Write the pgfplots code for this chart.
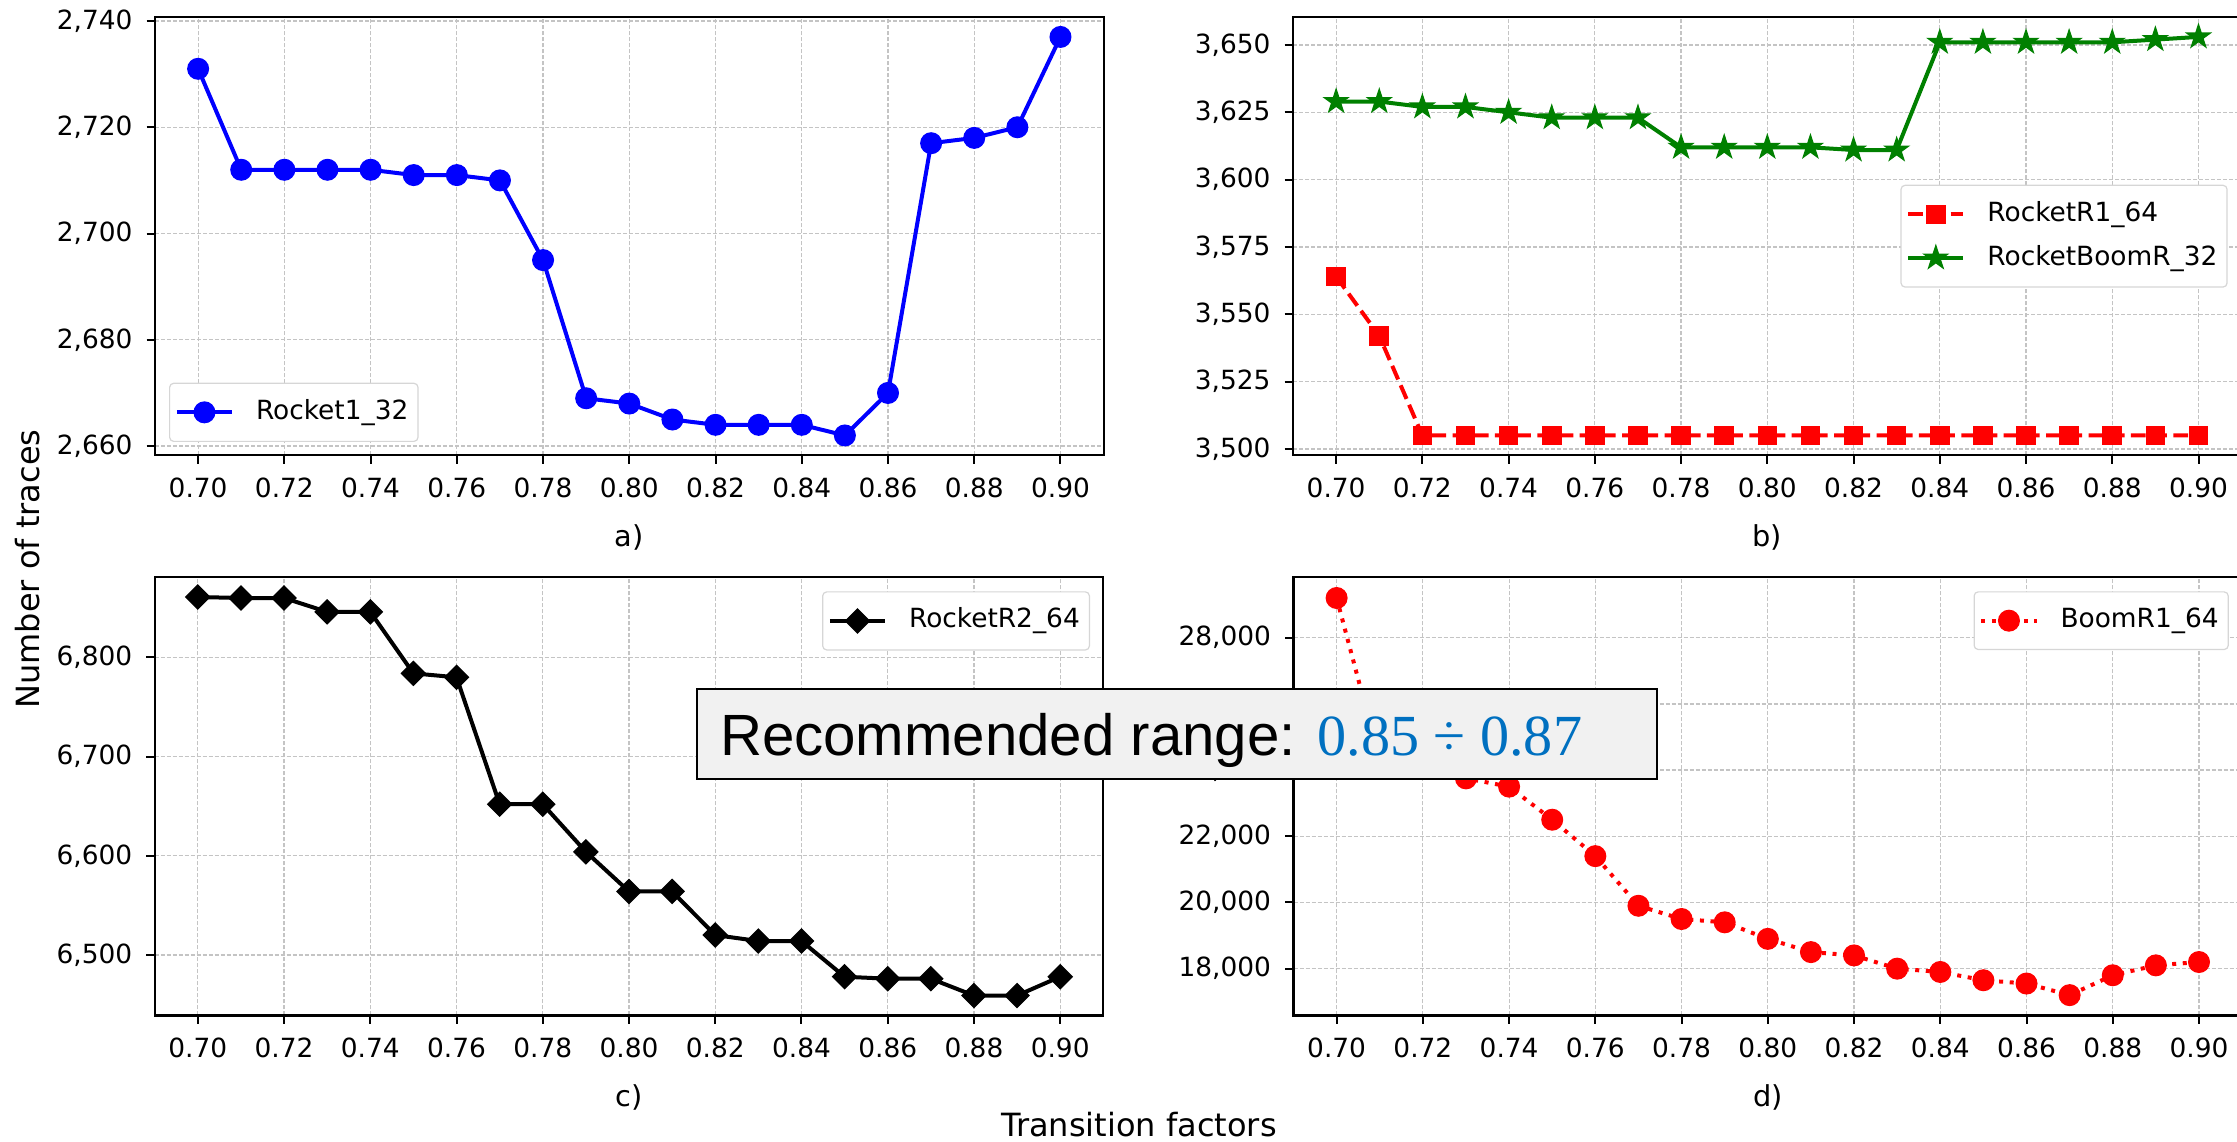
\documentclass[border=0pt]{standalone}
\usepackage{pgfplots}
\pgfplotsset{compat=1.18}
\usepackage{fontspec}
\setmainfont{DejaVu Sans}
\newfontfamily\arialfont{Liberation Sans}
\newfontfamily\timesfont{Liberation Serif}
\definecolor{gridgray}{RGB}{196,196,196}
\definecolor{legedge}{RGB}{214,214,214}
\definecolor{boxfill}{RGB}{241,241,241}
\definecolor{recblue}{RGB}{0,112,192}
\definecolor{mgreen}{RGB}{0,128,0}
\pgfdeclareplotmark{mystar}{%
  \pgfpathmoveto{\pgfpointpolar{90}{\pgfplotmarksize}}%
  \pgfpathlineto{\pgfpointpolar{126}{0.382\pgfplotmarksize}}%
  \pgfpathlineto{\pgfpointpolar{162}{\pgfplotmarksize}}%
  \pgfpathlineto{\pgfpointpolar{198}{0.382\pgfplotmarksize}}%
  \pgfpathlineto{\pgfpointpolar{234}{\pgfplotmarksize}}%
  \pgfpathlineto{\pgfpointpolar{270}{0.382\pgfplotmarksize}}%
  \pgfpathlineto{\pgfpointpolar{306}{\pgfplotmarksize}}%
  \pgfpathlineto{\pgfpointpolar{342}{0.382\pgfplotmarksize}}%
  \pgfpathlineto{\pgfpointpolar{18}{\pgfplotmarksize}}%
  \pgfpathlineto{\pgfpointpolar{54}{0.382\pgfplotmarksize}}%
  \pgfpathclose\pgfusepathqfillstroke}
\pgfdeclareplotmark{mydiamond}{%
  \pgfpathmoveto{\pgfqpoint{0pt}{\pgfplotmarksize}}%
  \pgfpathlineto{\pgfqpoint{\pgfplotmarksize}{0pt}}%
  \pgfpathlineto{\pgfqpoint{0pt}{-\pgfplotmarksize}}%
  \pgfpathlineto{\pgfqpoint{-\pgfplotmarksize}{0pt}}%
  \pgfpathclose\pgfusepathqfillstroke}
\pgfplotsset{
  panel/.style={
    scale only axis, width=237.15pt, height=109.6pt,
    xmin=0.69, xmax=0.91,
    xtick={0.70,0.72,0.74,0.76,0.78,0.80,0.82,0.84,0.86,0.88,0.90},
    xticklabel style={/pgf/number format/fixed, /pgf/number format/fixed zerofill, /pgf/number format/precision=2},
    yticklabel style={/pgf/number format/fixed},
    scaled x ticks=false, scaled y ticks=false,
    /pgf/number format/assume math mode=true,
    /pgf/number format/1000 sep={,},
    grid=major,
    grid style={gridgray, line width=0.3pt, dash pattern=on 1pt off 0.5pt},
    tick align=outside, tick pos=left, major tick length=2.1pt,
    tick style={black, line width=0.5pt},
    axis line style={line width=0.55pt},
    ticklabel style={font=\fontsize{6.6}{7.5}\selectfont},
    xlabel style={font=\fontsize{7.2}{8}\selectfont, at={(axis description cs:0.5,-0.187)}, anchor=center},
    legend style={font=\fontsize{6.6}{7.5}\selectfont, draw=legedge, line width=0.3pt,
      rounded corners=1pt, fill=white,
      inner xsep=1.3pt, inner ysep=2.9pt, row sep=2.2pt,
      nodes={inner sep=1.1pt}},
    legend cell align=left,
    legend image code/.code={\draw[mark repeat=2,mark phase=2] plot coordinates {(0pt,0pt) (6.9pt,0pt) (13.8pt,0pt)}; \path (18.2pt,0pt);},
  },
  every axis plot/.append style={line width=1pt},
}
\begin{document}
\begin{tikzpicture}
\useasboundingbox (0pt,0pt) rectangle (559.25pt,285.5pt);
% a)
\begin{axis}[panel, at={(38.75pt,171.65pt)}, anchor=south west,
  ymin=2658.25, ymax=2740.75, ytick={2660,2680,2700,2720,2740},
  xlabel={a)},
  legend style={at={(0.0148,0.0306)}, anchor=south west}]
\addplot[blue, mark=*, mark size=2.6pt, mark options={line width=0.3pt}] coordinates {
(0.70,2731) (0.71,2712) (0.72,2712) (0.73,2712) (0.74,2712) (0.75,2711) (0.76,2711)
(0.77,2710) (0.78,2695) (0.79,2669) (0.80,2668) (0.81,2665) (0.82,2664) (0.83,2664)
(0.84,2664) (0.85,2662) (0.86,2670) (0.87,2717) (0.88,2718) (0.89,2720) (0.90,2737)};
\addlegendentry{Rocket1\_32}
\end{axis}
% b)
\begin{axis}[panel, at={(323.25pt,171.65pt)}, anchor=south west,
  ymin=3497.6, ymax=3660.4, ytick={3500,3525,3550,3575,3600,3625,3650},
  xlabel={b)},
  legend style={at={(0.9853,0.5)}, anchor=east}]
\addplot[red, dash pattern=on 3.7pt off 1.6pt, mark=square*, mark size=2.3pt, mark options={solid, line width=0.3pt}] coordinates {
(0.70,3564) (0.71,3542) (0.72,3505) (0.73,3505) (0.74,3505) (0.75,3505) (0.76,3505)
(0.77,3505) (0.78,3505) (0.79,3505) (0.80,3505) (0.81,3505) (0.82,3505) (0.83,3505)
(0.84,3505) (0.85,3505) (0.86,3505) (0.87,3505) (0.88,3505) (0.89,3505) (0.90,3505)};
\addlegendentry{RocketR1\_64}
\addplot[mgreen, mark=mystar, mark size=3.1pt, mark options={solid, line width=0.3pt}] coordinates {
(0.70,3629) (0.71,3629) (0.72,3627) (0.73,3627) (0.74,3625) (0.75,3623) (0.76,3623)
(0.77,3623) (0.78,3612) (0.79,3612) (0.80,3612) (0.81,3612) (0.82,3611) (0.83,3611)
(0.84,3651) (0.85,3651) (0.86,3651) (0.87,3651) (0.88,3651) (0.89,3652) (0.90,3653)};
\addlegendentry{RocketBoomR\_32}
\end{axis}
% c)
\begin{axis}[panel, at={(38.675pt,31.625pt)}, anchor=south west,
  ymin=6438.9, ymax=6881.1, ytick={6500,6600,6700,6800},
  xlabel={c)},
  legend style={at={(0.986,0.9676)}, anchor=north east}]
\addplot[black, mark=mydiamond, mark size=3pt, mark options={line width=0.3pt}] coordinates {
(0.70,6861) (0.71,6860) (0.72,6860) (0.73,6846) (0.74,6846) (0.75,6784) (0.76,6780)
(0.77,6652) (0.78,6652) (0.79,6604) (0.80,6564) (0.81,6564) (0.82,6520) (0.83,6514)
(0.84,6514) (0.85,6478) (0.86,6476) (0.87,6476) (0.88,6459) (0.89,6459) (0.90,6478)};
\addlegendentry{RocketR2\_64}
\end{axis}
% d)
\begin{axis}[panel, at={(323.375pt,31.625pt)}, anchor=south west,
  ymin=16585, ymax=29832, ytick={18000,20000,22000,24000,26000,28000},
  xlabel={d)},
  legend style={at={(0.986,0.9676)}, anchor=north east}]
\addplot[red, dash pattern=on 1pt off 1.65pt, mark=*, mark size=2.6pt, mark options={solid, line width=0.3pt}] coordinates {
(0.70,29200) (0.71,24300) (0.72,24200) (0.73,23750) (0.74,23500) (0.75,22500) (0.76,21400)
(0.77,19900) (0.78,19500) (0.79,19400) (0.80,18900) (0.81,18500) (0.82,18400) (0.83,18000)
(0.84,17900) (0.85,17650) (0.86,17550) (0.87,17200) (0.88,17800) (0.89,18100) (0.90,18200)};
\addlegendentry{BoomR1\_64}
\end{axis}
% shared labels
\node[rotate=90, font=\fontsize{8}{9.5}\selectfont] at (7pt,143.25pt) {Number of traces};
\node[font=\fontsize{8}{9.5}\selectfont] at (284.75pt,4.25pt) {Transition factors};
% recommended range box
\draw[fill=boxfill, line width=0.7pt] (174.25pt,90.75pt) rectangle (414.25pt,113.25pt);
\node[anchor=base west, inner sep=0pt, font=\fontsize{14.55}{17}\selectfont] at (179.8pt,96.6pt)
  {\arialfont Recommended range: \textcolor{recblue}{\timesfont 0.85 \char"00F7{} 0.87}};
\end{tikzpicture}
\end{document}
